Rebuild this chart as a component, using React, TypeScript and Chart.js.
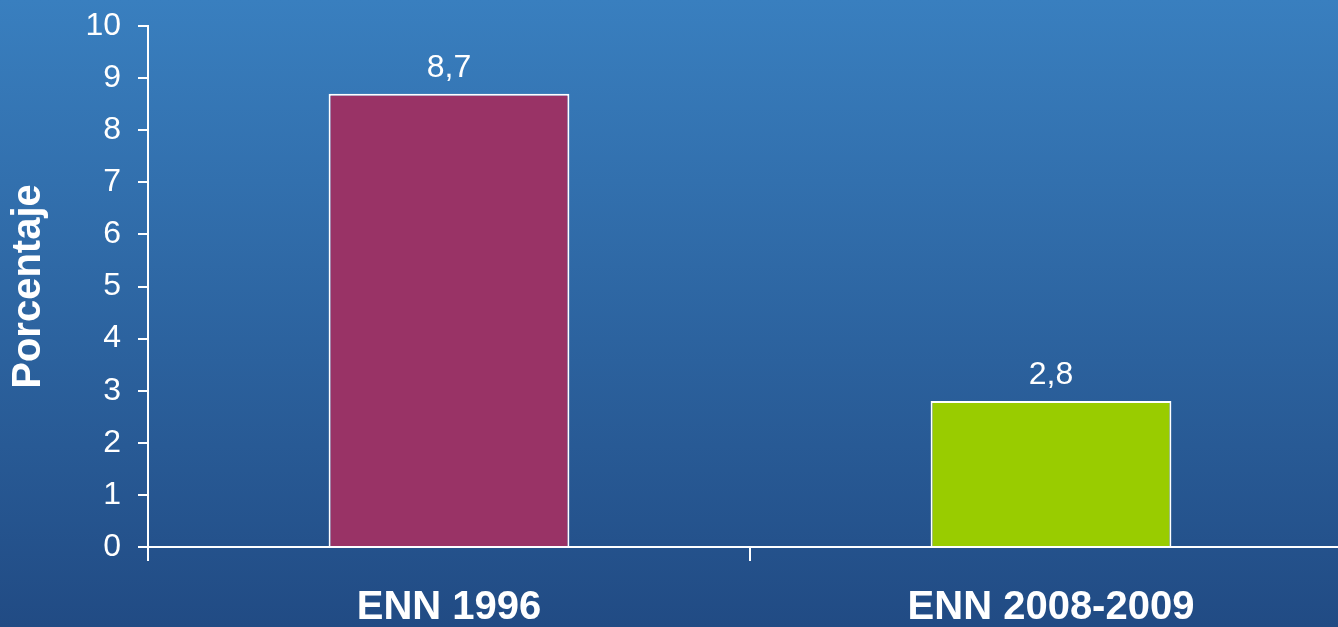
import React, { useEffect, useRef } from "react";
import { Chart, registerables } from "chart.js";

Chart.register(...registerables);

const categories = ["ENN 1996", "ENN 2008-2009"];
const values = [8.7, 2.8];
const barColors = ["#993366", "#99CC00"];
const yTicks = [0, 1, 2, 3, 4, 5, 6, 7, 8, 9, 10];
const yTitle = "Porcentaje";

const FONT = "'Liberation Sans', Arial, Helvetica, sans-serif";

const bgPlugin = {
  id: "bgGradient",
  beforeDraw(chart: any) {
    const { ctx, width, height } = chart;
    const g = ctx.createLinearGradient(0, 0, 0, height);
    g.addColorStop(0, "#397fbf");
    g.addColorStop(1, "#214b84");
    ctx.save();
    ctx.fillStyle = g;
    ctx.fillRect(0, 0, width, height);
    ctx.restore();
  },
};

const labelPlugin = {
  id: "valueLabels",
  afterDatasetsDraw(chart: any) {
    const { ctx } = chart;
    const meta = chart.getDatasetMeta(0);
    ctx.save();
    ctx.fillStyle = "#ffffff";
    ctx.font = `32px ${FONT}`;
    ctx.textAlign = "center";
    ctx.textBaseline = "middle";
    meta.data.forEach((bar: any, i: number) => {
      const v = values[i];
      ctx.fillText(v.toFixed(1).replace(".", ","), bar.x, bar.y - 26);
    });
    ctx.restore();
  },
};

export default function App() {
  const ref = useRef<HTMLCanvasElement | null>(null);
  useEffect(() => {
    if (!ref.current) return;
    const chart = new Chart(ref.current, {
      type: "bar",
      data: {
        labels: categories,
        datasets: [
          {
            data: values,
            backgroundColor: barColors,
            borderColor: "#ffffff",
            borderWidth: 2,
            barPercentage: 0.4,
            categoryPercentage: 1,
          },
        ],
      },
      options: {
        responsive: false,
        animation: false,
        layout: { padding: { top: 26, right: 0, left: 0, bottom: 0 } },
        plugins: { legend: { display: false }, tooltip: { enabled: false } },
        scales: {
          x: {
            grid: {
              offset: true,
              drawOnChartArea: false,
              drawTicks: true,
              tickLength: 14,
              color: "#ffffff",
              lineWidth: 2,
            },
            border: { color: "#ffffff", width: 2 },
            ticks: {
              color: "#ffffff",
              font: { family: FONT, size: 40, weight: "bold" },
              padding: 23,
            },
            afterFit(scale: any) {
              scale.height = 80;
              scale.paddingLeft = 0;
              scale.paddingRight = 0;
            },
          },
          y: {
            min: 0,
            max: 10,
            afterBuildTicks(scale: any) {
              scale.ticks = yTicks.map((v) => ({ value: v }));
            },
            grid: {
              drawOnChartArea: false,
              drawTicks: true,
              tickLength: 10,
              color: "#ffffff",
              lineWidth: 2,
            },
            border: { color: "#ffffff", width: 2 },
            ticks: {
              color: "#ffffff",
              font: { family: FONT, size: 32 },
              padding: 17,
            },
            title: {
              display: true,
              text: yTitle,
              color: "#ffffff",
              font: { family: FONT, size: 40, weight: "bold" },
              padding: { top: 5, bottom: 0 },
            },
            afterFit(scale: any) {
              scale.width = 148;
              scale.paddingTop = 0;
              scale.paddingBottom = 0;
            },
          },
        },
      },
      plugins: [bgPlugin, labelPlugin],
    });
    return () => chart.destroy();
  }, []);
  return (
    <div
      style={{
        position: "fixed",
        left: 0,
        top: 0,
        width: 1338,
        height: 627,
        overflow: "hidden",
      }}
    >
      <canvas ref={ref} width={1352} height={627} style={{ display: "block" }} />
    </div>
  );
}
